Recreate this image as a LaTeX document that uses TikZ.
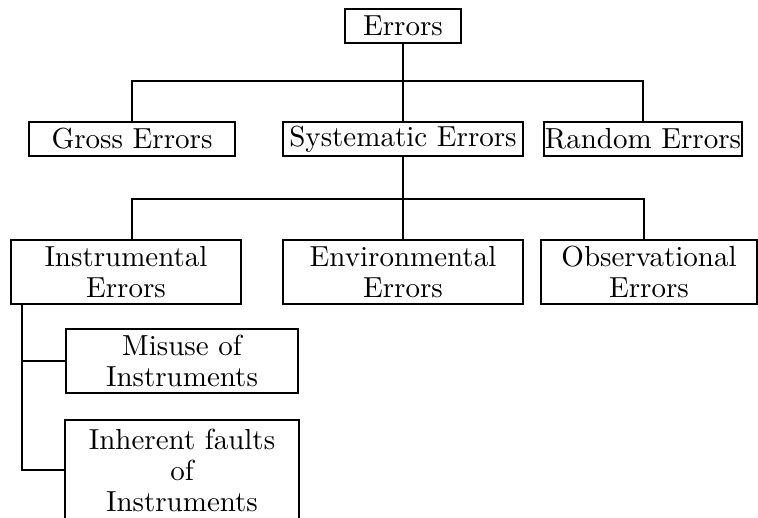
\documentclass[tikz,border=0pt]{standalone}
\usepackage{fontspec}
\setmainfont{lmroman10-regular.otf}
\begin{document}
\begin{tikzpicture}[x=1pt,y=-1pt,
  box/.style={draw,line width=2.3pt,inner sep=0pt,align=center,font=\fontsize{29}{31}\selectfont},
  conn/.style={line width=2.3pt}]
\useasboundingbox (0,0) rectangle (758,517);
\node[box,minimum width=116pt,minimum height=34pt] (err) at (403,26) {Errors};
\node[box,minimum width=206pt,minimum height=34pt] (gross) at (132,139) {Gross Errors};
\node[box,minimum width=240pt,minimum height=34pt] (sys) at (403,139) {Systematic Errors};
\node[box,minimum width=198pt,minimum height=34pt] (rand) at (643,139) {Random Errors};
\node[box,minimum width=230pt,minimum height=64pt] (instr) at (126,272) {Instrumental\\Errors};
\node[box,minimum width=240pt,minimum height=64pt] (env) at (403,272) {Environmental\\Errors};
\node[box,minimum width=216pt,minimum height=64pt] (obs) at (649,272) {Observational\\Errors};
\node[box,minimum width=232pt,minimum height=64pt] (mis) at (182,361) {Misuse of\\Instruments};
\node[box,draw=none,minimum width=232pt,minimum height=98pt] (inh) at (182,470) {Inherent faults\\of\\Instruments};
\draw[conn] (inh.south west) -- (inh.north west) -- (inh.north east) -- (inh.south east);
% level 1
\coordinate (j1) at (403,81);
\draw[conn] (err.south) -- (sys.north);
\draw[conn] (gross.north) |- (j1) -| (rand.north);
% level 2
\coordinate (j2) at (403,199);
\draw[conn] (sys.south) -- (env.north);
\draw[conn] ([xshift=6pt]instr.north) |- (j2) -| ([xshift=-5pt]obs.north);
% level 3
\coordinate (t) at ([xshift=12pt]instr.south west);
\draw[conn] (t) |- (inh.west);
\draw[conn] (t |- mis.west) -- (mis.west);
\end{tikzpicture}
\end{document}
